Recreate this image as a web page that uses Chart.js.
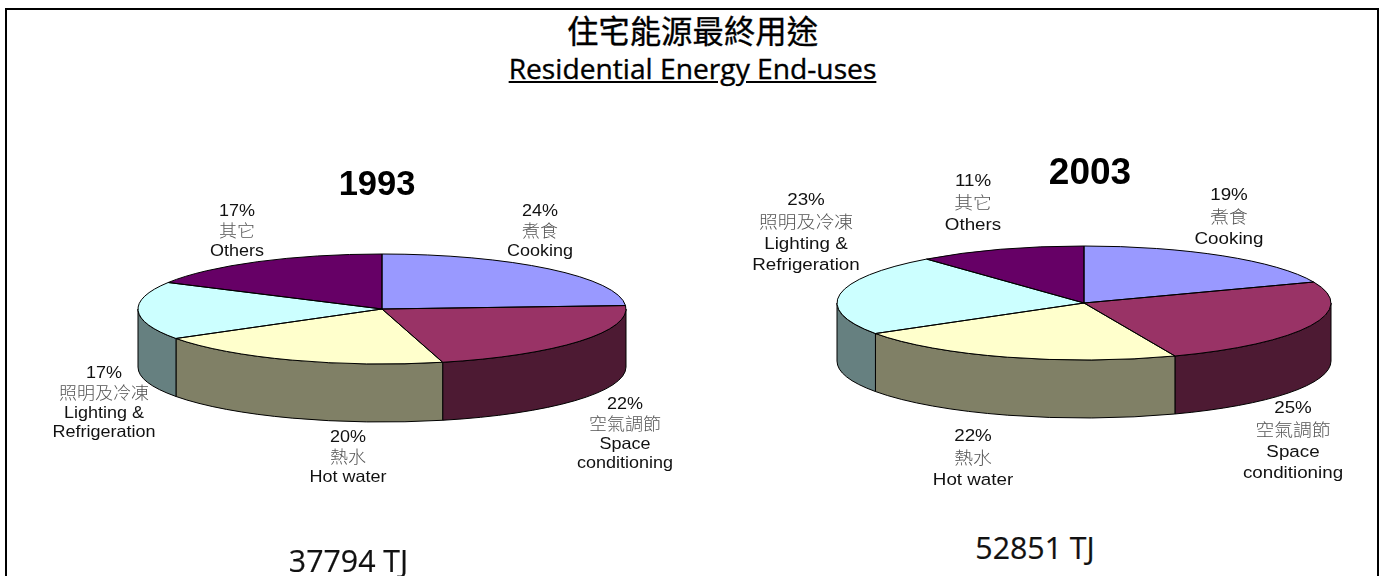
<!DOCTYPE html>
<html>
<head>
<meta charset="utf-8">
<script src="https://cdn.jsdelivr.net/npm/chart.js@4"></script>
<style>
html,body{margin:0;padding:0;background:#fff;overflow:hidden}
#page{position:relative;width:1385px;height:576px;overflow:hidden;background:#fff}
#frame{position:absolute;left:5px;top:8px;width:1370px;height:600px;border:2px solid #000}
canvas{position:absolute}
.t{position:absolute;white-space:nowrap;text-align:center;color:#000;transform:translateX(-50%)}
.title{font-family:"Open Sans","Noto Sans CJK TC",sans-serif;-webkit-text-stroke:0.35px #000}
.lab{font-family:"Liberation Sans",sans-serif;color:#111;transform-origin:0 0}
.lab .zh{font-family:"Noto Sans CJK TC",sans-serif;color:#555;font-weight:300}
.year{font-family:"Liberation Sans",sans-serif;font-weight:bold}
.tot{font-family:"Open Sans",sans-serif;font-size:30.3px;color:#111;-webkit-text-stroke:0.2px #111}
</style>
</head>
<body>
<div id="page"><div id="frame"></div></div>
<script>
const categories = ["Cooking","Space conditioning","Hot water","Lighting & Refrigeration","Others"];
const categoriesZh = ["煮食","空氣調節","熱水","照明及冷凍","其它"];
const labelLines = [["Cooking"],["Space","conditioning"],["Hot water"],["Lighting &","Refrigeration"],["Others"]];
const values1993 = [24,22,20,17,17];
const values2003 = [19,25,22,23,11];
const totals = ["37794 TJ","52851 TJ"];
const years = ["1993","2003"];
const topColors = ["#9999FF","#993366","#FFFFCC","#CCFFFF","#660066"];
const sideColors = ["#4D4D80","#4D1A33","#808066","#668080","#330033"];

const page = document.getElementById('page');
function addText(cls, html, x, y, css){
  const d = document.createElement('div');
  d.className = 't ' + cls; d.innerHTML = html;
  d.style.left = x + 'px'; d.style.top = y + 'px';
  Object.assign(d.style, css || {});
  page.appendChild(d);
}
addText('title','住宅能源最終用途',692.5,8,{fontSize:'31.4px',lineHeight:'44px',fontFamily:'"Noto Sans CJK TC",sans-serif'});
addText('title','<u>Residential Energy End-uses</u>',692.5,48,{fontSize:'28.2px',lineHeight:'40px'});

const pieGeom = plugin3d();
function plugin3d(){
  return {
    id:'pie3d',
    beforeDatasetsDraw(chart){
      const o = chart.options.plugins.pie3d, ctx = chart.ctx;
      const els = chart.getDatasetMeta(0).data;
      const cx = els[0].x, cy = els[0].y, r = els[0].outerRadius, ry = r*o.tilt;
      ctx.save();
      ctx.lineWidth = 1; ctx.strokeStyle = '#000';
      els.forEach((e,i)=>{
        const a = Math.max(e.startAngle,0), b = Math.min(e.endAngle,Math.PI);
        if (b <= a) return;
        ctx.beginPath();
        ctx.ellipse(cx,cy,r,ry,0,a,b);
        ctx.ellipse(cx,cy+o.depth,r,ry,0,b,a,true);
        ctx.closePath();
        ctx.fillStyle = sideColors[i];
        ctx.fill(); ctx.stroke();
      });
      ctx.restore();
      ctx.save();
      ctx.translate(cx,cy); ctx.scale(1,o.tilt); ctx.translate(-cx,-cy);
    },
    afterDatasetsDraw(chart){
      chart.ctx.restore();
      const o = chart.options.plugins.pie3d, ctx = chart.ctx;
      const els = chart.getDatasetMeta(0).data;
      const cx = els[0].x, cy = els[0].y, r = els[0].outerRadius, ry = r*o.tilt;
      ctx.save();
      ctx.lineWidth = 1; ctx.strokeStyle = '#000';
      els.forEach(e=>{
        ctx.beginPath();
        ctx.moveTo(cx,cy);
        ctx.ellipse(cx,cy,r,ry,0,e.startAngle,e.endAngle);
        ctx.closePath();
        ctx.stroke();
      });
      ctx.restore();
    }
  };
}
function makePie(values, cx, cy, rx, ry, depth){
  const w = 2*rx+20, h = 2*(ry+depth)+20;
  const c = document.createElement('canvas');
  c.width = w; c.height = h;
  c.style.left = (cx-w/2)+'px'; c.style.top = (cy-h/2)+'px';
  c.style.width = w+'px'; c.style.height = h+'px';
  page.appendChild(c);
  new Chart(c,{
    type:'pie',
    data:{labels:categories,datasets:[{data:values,backgroundColor:topColors,borderWidth:0,clip:false}]},
    options:{
      responsive:false,animation:false,events:[],radius:rx,
      layout:{padding:0},
      plugins:{legend:{display:false},tooltip:{enabled:false},title:{display:false},pie3d:{tilt:ry/rx,depth:depth}}
    },
    plugins:[pieGeom]
  });
}
makePie(values1993,382,309,244,55,58);
makePie(values2003,1084,303,247,57,58);

function addLabels(values, pos, lh, fs, h){
  const sy = h/fs;
  values.forEach((v,i)=>{
    const html = [v+'%','<span class="zh">'+categoriesZh[i]+'</span>'].concat(labelLines[i].map(s=>s.replace('&','&amp;'))).join('<br>');
    addText('lab',html,pos[i][0],pos[i][1],{lineHeight:(lh/sy)+'px',fontSize:fs+'px',transform:'scaleY('+sy+') translateX(-50%)'});
  });
}
addLabels(values1993,[[540,201],[625,394],[348,427],[104,363],[237,201]],19.4,18,16.5);
addLabels(values2003,[[1229,184],[1293,397],[973,425],[806,189],[973,170]],21,18.8,17);

addText('year',years[0],377,163,{fontSize:'34.5px',lineHeight:'40px'});
addText('year',years[1],1090,151,{fontSize:'37px',lineHeight:'42px'});
addText('tot',totals[0],348.5,541,{lineHeight:'40px'});
addText('tot',totals[1],1035,528,{lineHeight:'40px'});
</script>
</body>
</html>
